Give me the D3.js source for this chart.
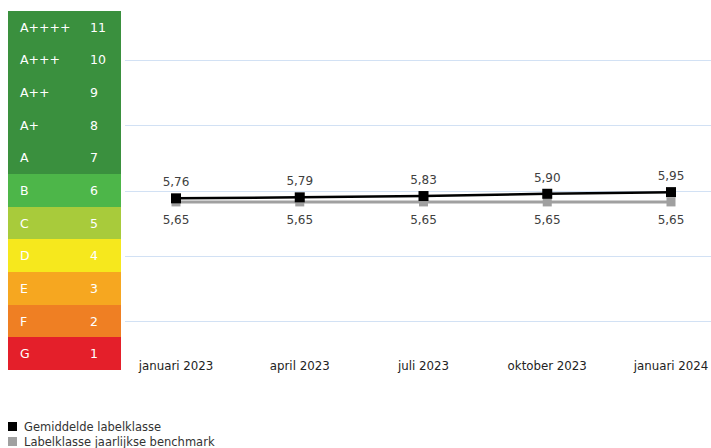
<!DOCTYPE html>
<html>
<head>
<meta charset="utf-8">
<script src="https://cdn.jsdelivr.net/npm/d3@7"></script>
<style>
  body { margin: 0; background: #fff; }
  svg { font-family: "DejaVu Sans", Verdana, sans-serif; }
</style>
</head>
<body>
<div id="chart"></div>
<script>
// label classes, bottom to top
var classes = ["G", "F", "E", "D", "C", "B", "A", "A+", "A++", "A+++", "A++++"];
var classValues = [1, 2, 3, 4, 5, 6, 7, 8, 9, 10, 11];
var classColors = ["#e41f2a", "#ef7f23", "#f6a720", "#f6e81d", "#a8cb3b", "#4db649",
                   "#3a903e", "#3a903e", "#3a903e", "#3a903e", "#3a903e"];

var periods = ["januari 2023", "april 2023", "juli 2023", "oktober 2023", "januari 2024"];
var gemiddelde = [5.76, 5.79, 5.83, 5.90, 5.95];
var benchmark = [5.65, 5.65, 5.65, 5.65, 5.65];
var gridValues = [2, 4, 6, 8, 10];

var width = 711, height = 448;

var svg = d3.select("#chart").append("svg")
    .attr("width", width)
    .attr("height", height);

var y = d3.scaleLinear().domain([0.5, 11.5]).range([370, 11]);
var x = d3.scalePoint().domain(periods).range([176, 671]);
var fmt = function(v) { return d3.format(".2f")(v).replace(".", ","); };

// gridlines
svg.append("g").selectAll("line")
    .data(gridValues)
    .enter().append("line")
    .attr("x1", 125).attr("x2", width)
    .attr("y1", function(d) { return Math.round(y(d)) + 0.5; })
    .attr("y2", function(d) { return Math.round(y(d)) + 0.5; })
    .style("stroke", "#d2e1f4")
    .style("stroke-width", 1);

// energy label bands
var band = svg.append("g").selectAll("g")
    .data(classValues)
    .enter().append("g");

band.append("rect")
    .attr("x", 8)
    .attr("width", 113)
    .attr("y", function(d) { return Math.round(y(d + 0.5)); })
    .attr("height", function(d) { return Math.round(y(d - 0.5)) - Math.round(y(d + 0.5)); })
    .attr("shape-rendering", "crispEdges")
    .style("fill", function(d, i) { return classColors[i]; });

band.append("text")
    .attr("x", 20)
    .attr("y", function(d) { return y(d) + 4.5; })
    .style("fill", "#fff")
    .style("font-size", "12.5px")
    .text(function(d, i) { return classes[i]; });

band.append("text")
    .attr("x", 90)
    .attr("y", function(d) { return y(d) + 4.5; })
    .style("fill", "#fff")
    .style("font-size", "12.5px")
    .text(function(d) { return d; });

// lines
var line = d3.line()
    .x(function(d, i) { return x(periods[i]); })
    .y(function(d) { return y(d); });

svg.append("path")
    .datum(benchmark)
    .attr("d", line)
    .style("fill", "none")
    .style("stroke", "#a0a0a0")
    .style("stroke-width", 3);

svg.append("g").selectAll("rect")
    .data(benchmark)
    .enter().append("rect")
    .attr("x", function(d, i) { return x(periods[i]) - 4.5; })
    .attr("y", function(d) { return y(d) - 4.5; })
    .attr("width", 9).attr("height", 9)
    .style("fill", "#a0a0a0");

svg.append("path")
    .datum(gemiddelde)
    .attr("d", line)
    .style("fill", "none")
    .style("stroke", "#000")
    .style("stroke-width", 2.5);

svg.append("g").selectAll("rect")
    .data(gemiddelde)
    .enter().append("rect")
    .attr("x", function(d, i) { return x(periods[i]) - 5; })
    .attr("y", function(d) { return y(d) - 5; })
    .attr("width", 10).attr("height", 10)
    .style("fill", "#000");

// value labels
svg.append("g").selectAll("text")
    .data(gemiddelde)
    .enter().append("text")
    .attr("x", function(d, i) { return x(periods[i]); })
    .attr("y", function(d) { return y(d) - 12; })
    .attr("text-anchor", "middle")
    .style("font-size", "12px")
    .style("fill", "#404040")
    .text(fmt);

svg.append("g").selectAll("text")
    .data(benchmark)
    .enter().append("text")
    .attr("x", function(d, i) { return x(periods[i]); })
    .attr("y", function(d) { return y(d) + 22; })
    .attr("text-anchor", "middle")
    .style("font-size", "12px")
    .style("fill", "#404040")
    .text(fmt);

// x axis labels
svg.append("g").selectAll("text")
    .data(periods)
    .enter().append("text")
    .attr("x", function(d) { return x(d); })
    .attr("y", 370)
    .attr("text-anchor", "middle")
    .style("font-size", "11.8px")
    .style("fill", "#222")
    .text(function(d) { return d; });

// legend
var legendItems = [
  { name: "Gemiddelde labelklasse", color: "#000" },
  { name: "Labelklasse jaarlijkse benchmark", color: "#a0a0a0" }
];

var legend = svg.append("g").selectAll("g")
    .data(legendItems)
    .enter().append("g")
    .attr("transform", function(d, i) { return "translate(8," + (422 + i * 15) + ")"; });

legend.append("rect")
    .attr("width", 9).attr("height", 9)
    .style("fill", function(d) { return d.color; });

legend.append("text")
    .attr("x", 16)
    .attr("y", 9)
    .style("font-size", "11.5px")
    .style("fill", "#333")
    .text(function(d) { return d.name; });
</script>
</body>
</html>
